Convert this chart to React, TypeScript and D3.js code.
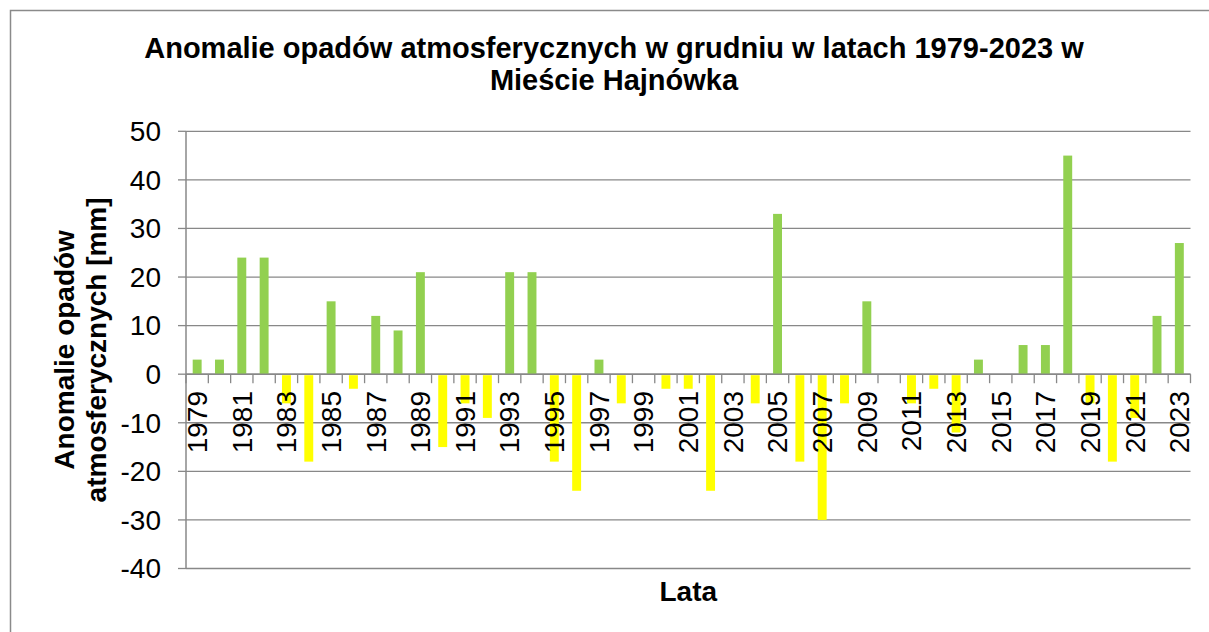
import React, { useEffect } from "react";
import * as d3 from "d3";

const years: number[] = [
  1979, 1980, 1981, 1982, 1983, 1984, 1985, 1986, 1987, 1988, 1989, 1990, 1991, 1992, 1993,
  1994, 1995, 1996, 1997, 1998, 1999, 2000, 2001, 2002, 2003, 2004, 2005, 2006, 2007, 2008,
  2009, 2010, 2011, 2012, 2013, 2014, 2015, 2016, 2017, 2018, 2019, 2020, 2021, 2022, 2023,
];
const anomalies: number[] = [
  3, 3, 24, 24, -6, -18, 15, -3, 12, 9, 21, -15, -6, -9, 21,
  21, -18, -24, 3, -6, 0, -3, -3, -24, 0, -6, 33, -18, -30, -6,
  15, 0, -6, -3, -12, 3, 0, 6, 6, 45, -6, -18, -9, 12, 27,
];
const yTicks: number[] = [50, 40, 30, 20, 10, 0, -10, -20, -30, -40];
const titleLines: string[] = [
  "Anomalie opadów atmosferycznych w grudniu w latach 1979-2023 w",
  "Mieście Hajnówka",
];
const yTitleLines: string[] = ["Anomalie opadów", "atmosferycznych [mm]"];
const xTitle = "Lata";

const FONT = "'Liberation Sans', Arial, Helvetica, sans-serif";
const GRID = "#888888";
const POS = "#92D050";
const NEG = "#FFFF00";

export default function App() {
  useEffect(() => {
    document.body.style.margin = "0";
  }, []);

  const W = 1209;
  const H = 632;
  const left = 186;
  const right = 1190.5;
  const top = 131.3;
  const bottom = 568.5;

  const x = d3
    .scaleBand<number>()
    .domain(years)
    .range([left, right])
    .paddingInner(0.6)
    .paddingOuter(0.3);
  const y = d3.scaleLinear().domain([-40, 50]).range([bottom, top]);
  const step = x.step();
  const bw = x.bandwidth();
  const y0 = y(0);

  const boundaries = years.map((yr) => (x(yr) as number) + bw / 2 - step / 2);
  boundaries.push(right);

  return (
    <svg width={W} height={H} style={{ display: "block", background: "#fff" }} fontFamily={FONT}>
      <rect x={10.5} y={10.5} width={1230} height={640} fill="#fff" stroke="#8a8a8a" strokeWidth={1.5} />

      {/* gridlines */}
      {yTicks.map((t) => (
        <line key={"g" + t} x1={left} x2={right} y1={y(t)} y2={y(t)} stroke={GRID} strokeWidth={1.3} />
      ))}
      {/* y ticks */}
      {yTicks.map((t) => (
        <line key={"yt" + t} x1={178} x2={left} y1={y(t)} y2={y(t)} stroke={GRID} strokeWidth={1.3} />
      ))}
      {/* y axis line */}
      <line x1={left} x2={left} y1={top} y2={bottom} stroke={GRID} strokeWidth={1.5} />

      {/* bars */}
      {years.map((yr, i) => {
        const v = anomalies[i];
        if (v === 0) return null;
        const yy = v > 0 ? y(v) : y0 + 1;
        const hh = v > 0 ? y0 - y(v) : y(v) - y0 - 1;
        return (
          <rect key={"b" + yr} x={x(yr)} y={yy} width={bw} height={hh} fill={v > 0 ? POS : NEG} />
        );
      })}

      {/* x axis line at zero and ticks */}
      <line x1={left} x2={right} y1={y0} y2={y0} stroke={GRID} strokeWidth={1.5} />
      {boundaries.map((bx, i) => (
        <line key={"xt" + i} x1={bx} x2={bx} y1={y0} y2={y0 + 9} stroke={GRID} strokeWidth={1.3} />
      ))}

      {/* y tick labels */}
      {yTicks.map((t) => (
        <text key={"yl" + t} x={161} y={y(t)} dy="0.35em" textAnchor="end" fontSize={28} fill="#000">
          {t}
        </text>
      ))}

      {/* x labels */}
      {years.map((yr, i) =>
        i % 2 === 0 ? (
          <text
            key={"xl" + yr}
            transform={`translate(${(x(yr) as number) + bw / 2},${391}) rotate(-90)`}
            dy="0.35em"
            textAnchor="end"
            fontSize={28}
            fill="#000"
          >
            {yr}
          </text>
        ) : null
      )}

      {/* title */}
      {titleLines.map((l, i) => (
        <text key={"t" + i} x={614} y={57.5 + i * 32} textAnchor="middle" fontSize={29} fontWeight="bold" fill="#000">
          {l}
        </text>
      ))}

      {/* y title */}
      {yTitleLines.map((l, i) => (
        <text
          key={"yt" + i}
          transform={`translate(${73.5 + i * 32},${(top + bottom) / 2}) rotate(-90)`}
          textAnchor="middle"
          fontSize={28}
          fontWeight="bold"
          fill="#000"
        >
          {l}
        </text>
      ))}

      {/* x title */}
      <text x={(left + right) / 2} y={601} textAnchor="middle" fontSize={28} fontWeight="bold" fill="#000">
        {xTitle}
      </text>
    </svg>
  );
}
